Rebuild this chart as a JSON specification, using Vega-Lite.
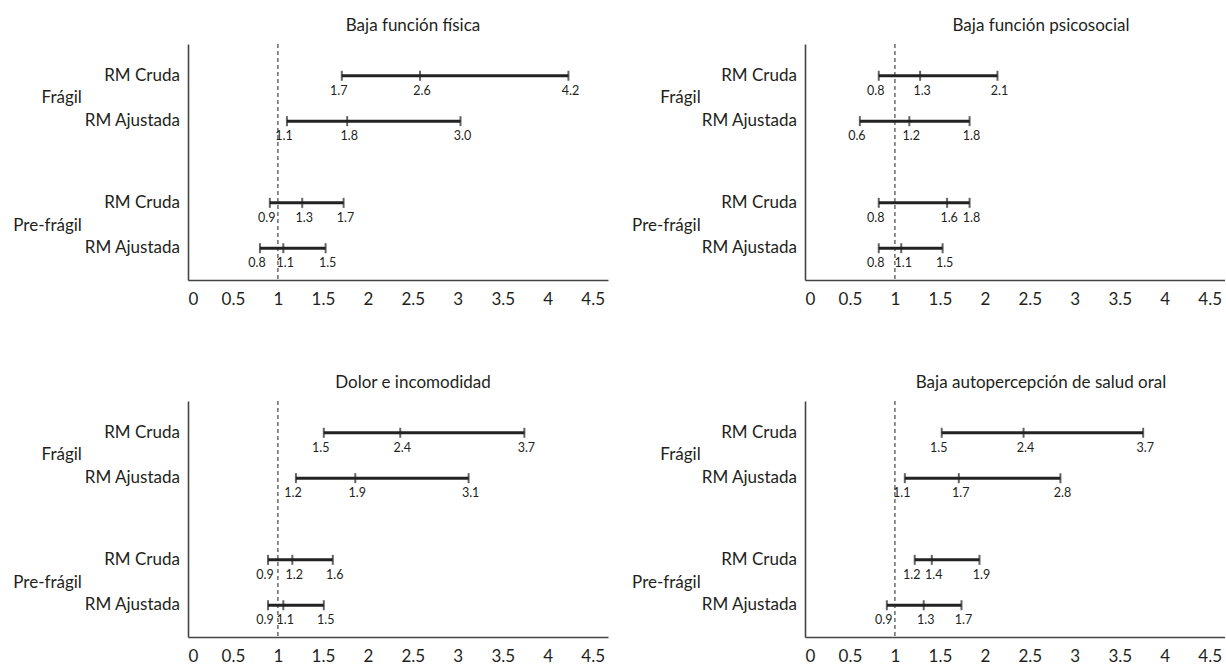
{
  "$schema": "https://vega.github.io/schema/vega-lite/v6.json",
  "padding": {"left": 13, "top": 16, "right": 0, "bottom": 0},
  "background": "white",
  "config": {
    "font": "Lato",
    "view": {"stroke": null},
    "title": {"fontSize": 17, "fontWeight": "normal", "color": "#231f20", "anchor": "middle", "offset": 9},
    "axisX": {"values": [0, 0.5, 1, 1.5, 2, 2.5, 3, 3.5, 4, 4.5], "format": "~g", "labelFontSize": 17, "labelColor": "#231f20", "ticks": false, "grid": false, "title": null, "domainColor": "#444", "domainWidth": 1.6, "labelPadding": 11},
    "axisY": {"labels": false, "ticks": false, "grid": false, "title": null, "domainColor": "#444", "domainWidth": 1.6}
  },
  "datasets": {
    "ci": [
      {"p": "Baja función física", "r": "RM Cruda", "pos": 4.5, "k": "lo", "v": 1.71, "lab": "1.7"},
      {"p": "Baja función física", "r": "RM Cruda", "pos": 4.5, "k": "est", "v": 2.58, "lab": "2.6"},
      {"p": "Baja función física", "r": "RM Cruda", "pos": 4.5, "k": "hi", "v": 4.23, "lab": "4.2"},
      {"p": "Baja función física", "r": "RM Ajustada", "pos": 3.5, "k": "lo", "v": 1.10, "lab": "1.1"},
      {"p": "Baja función física", "r": "RM Ajustada", "pos": 3.5, "k": "est", "v": 1.77, "lab": "1.8"},
      {"p": "Baja función física", "r": "RM Ajustada", "pos": 3.5, "k": "hi", "v": 3.03, "lab": "3.0"},
      {"p": "Baja función física", "r": "RM Cruda", "pos": 1.7, "k": "lo", "v": 0.91, "lab": "0.9"},
      {"p": "Baja función física", "r": "RM Cruda", "pos": 1.7, "k": "est", "v": 1.27, "lab": "1.3"},
      {"p": "Baja función física", "r": "RM Cruda", "pos": 1.7, "k": "hi", "v": 1.73, "lab": "1.7"},
      {"p": "Baja función física", "r": "RM Ajustada", "pos": 0.7, "k": "lo", "v": 0.80, "lab": "0.8"},
      {"p": "Baja función física", "r": "RM Ajustada", "pos": 0.7, "k": "est", "v": 1.06, "lab": "1.1"},
      {"p": "Baja función física", "r": "RM Ajustada", "pos": 0.7, "k": "hi", "v": 1.53, "lab": "1.5"},

      {"p": "Baja función psicosocial", "r": "RM Cruda", "pos": 4.5, "k": "lo", "v": 0.82, "lab": "0.8"},
      {"p": "Baja función psicosocial", "r": "RM Cruda", "pos": 4.5, "k": "est", "v": 1.28, "lab": "1.3"},
      {"p": "Baja función psicosocial", "r": "RM Cruda", "pos": 4.5, "k": "hi", "v": 2.14, "lab": "2.1"},
      {"p": "Baja función psicosocial", "r": "RM Ajustada", "pos": 3.5, "k": "lo", "v": 0.61, "lab": "0.6"},
      {"p": "Baja función psicosocial", "r": "RM Ajustada", "pos": 3.5, "k": "est", "v": 1.16, "lab": "1.2"},
      {"p": "Baja función psicosocial", "r": "RM Ajustada", "pos": 3.5, "k": "hi", "v": 1.83, "lab": "1.8"},
      {"p": "Baja función psicosocial", "r": "RM Cruda", "pos": 1.7, "k": "lo", "v": 0.82, "lab": "0.8"},
      {"p": "Baja función psicosocial", "r": "RM Cruda", "pos": 1.7, "k": "est", "v": 1.58, "lab": "1.6"},
      {"p": "Baja función psicosocial", "r": "RM Cruda", "pos": 1.7, "k": "hi", "v": 1.83, "lab": "1.8"},
      {"p": "Baja función psicosocial", "r": "RM Ajustada", "pos": 0.7, "k": "lo", "v": 0.82, "lab": "0.8"},
      {"p": "Baja función psicosocial", "r": "RM Ajustada", "pos": 0.7, "k": "est", "v": 1.07, "lab": "1.1"},
      {"p": "Baja función psicosocial", "r": "RM Ajustada", "pos": 0.7, "k": "hi", "v": 1.53, "lab": "1.5"},

      {"p": "Dolor e incomodidad", "r": "RM Cruda", "pos": 4.5, "k": "lo", "v": 1.51, "lab": "1.5"},
      {"p": "Dolor e incomodidad", "r": "RM Cruda", "pos": 4.5, "k": "est", "v": 2.36, "lab": "2.4"},
      {"p": "Dolor e incomodidad", "r": "RM Cruda", "pos": 4.5, "k": "hi", "v": 3.74, "lab": "3.7"},
      {"p": "Dolor e incomodidad", "r": "RM Ajustada", "pos": 3.5, "k": "lo", "v": 1.20, "lab": "1.2"},
      {"p": "Dolor e incomodidad", "r": "RM Ajustada", "pos": 3.5, "k": "est", "v": 1.86, "lab": "1.9"},
      {"p": "Dolor e incomodidad", "r": "RM Ajustada", "pos": 3.5, "k": "hi", "v": 3.12, "lab": "3.1"},
      {"p": "Dolor e incomodidad", "r": "RM Cruda", "pos": 1.7, "k": "lo", "v": 0.89, "lab": "0.9"},
      {"p": "Dolor e incomodidad", "r": "RM Cruda", "pos": 1.7, "k": "est", "v": 1.16, "lab": "1.2"},
      {"p": "Dolor e incomodidad", "r": "RM Cruda", "pos": 1.7, "k": "hi", "v": 1.61, "lab": "1.6"},
      {"p": "Dolor e incomodidad", "r": "RM Ajustada", "pos": 0.7, "k": "lo", "v": 0.89, "lab": "0.9"},
      {"p": "Dolor e incomodidad", "r": "RM Ajustada", "pos": 0.7, "k": "est", "v": 1.06, "lab": "1.1"},
      {"p": "Dolor e incomodidad", "r": "RM Ajustada", "pos": 0.7, "k": "hi", "v": 1.51, "lab": "1.5"},

      {"p": "Baja autopercepción de salud oral", "r": "RM Cruda", "pos": 4.5, "k": "lo", "v": 1.52, "lab": "1.5"},
      {"p": "Baja autopercepción de salud oral", "r": "RM Cruda", "pos": 4.5, "k": "est", "v": 2.43, "lab": "2.4"},
      {"p": "Baja autopercepción de salud oral", "r": "RM Cruda", "pos": 4.5, "k": "hi", "v": 3.76, "lab": "3.7"},
      {"p": "Baja autopercepción de salud oral", "r": "RM Ajustada", "pos": 3.5, "k": "lo", "v": 1.11, "lab": "1.1"},
      {"p": "Baja autopercepción de salud oral", "r": "RM Ajustada", "pos": 3.5, "k": "est", "v": 1.71, "lab": "1.7"},
      {"p": "Baja autopercepción de salud oral", "r": "RM Ajustada", "pos": 3.5, "k": "hi", "v": 2.84, "lab": "2.8"},
      {"p": "Baja autopercepción de salud oral", "r": "RM Cruda", "pos": 1.7, "k": "lo", "v": 1.22, "lab": "1.2"},
      {"p": "Baja autopercepción de salud oral", "r": "RM Cruda", "pos": 1.7, "k": "est", "v": 1.41, "lab": "1.4"},
      {"p": "Baja autopercepción de salud oral", "r": "RM Cruda", "pos": 1.7, "k": "hi", "v": 1.94, "lab": "1.9"},
      {"p": "Baja autopercepción de salud oral", "r": "RM Ajustada", "pos": 0.7, "k": "lo", "v": 0.91, "lab": "0.9"},
      {"p": "Baja autopercepción de salud oral", "r": "RM Ajustada", "pos": 0.7, "k": "est", "v": 1.32, "lab": "1.3"},
      {"p": "Baja autopercepción de salud oral", "r": "RM Ajustada", "pos": 0.7, "k": "hi", "v": 1.74, "lab": "1.7"}
    ],
    "rows": [
      {"t": "RM Cruda", "pos": 4.5},
      {"t": "RM Ajustada", "pos": 3.5},
      {"t": "RM Cruda", "pos": 1.7},
      {"t": "RM Ajustada", "pos": 0.7}
    ],
    "groups": [
      {"t": "Frágil", "pos": 4.0},
      {"t": "Pre-frágil", "pos": 1.2}
    ],
    "ref": [{"or": 1}]
  },
  "vconcat": [
    {
      "spacing": 24,
      "hconcat": [
        {
          "title": {"text": "Baja función física", "dx": 15},
          "width": 420, "height": 236,
          "layer": [
            {"data": {"name": "ref"}, "mark": {"type": "rule", "strokeDash": [4, 3], "color": "#231f20", "strokeWidth": 1},
             "encoding": {"x": {"field": "or", "type": "quantitative", "scale": {"domain": [0, 4.67], "nice": false, "zero": false}}}},
            {"data": {"name": "ci"}, "transform": [{"filter": "datum.p == 'Baja función física'"}], "mark": {"type": "rule", "color": "#222", "strokeWidth": 3},
             "encoding": {"x": {"aggregate": "min", "field": "v", "type": "quantitative"}, "x2": {"aggregate": "max", "field": "v"},
                          "y": {"field": "pos", "type": "quantitative", "scale": {"domain": [0, 5.2], "nice": false}}}},
            {"data": {"name": "ci"}, "transform": [{"filter": "datum.p == 'Baja función física'"}], "mark": {"type": "tick", "orient": "vertical", "color": "#222", "size": 10, "thickness": 2},
             "encoding": {"x": {"field": "v", "type": "quantitative"}, "y": {"field": "pos", "type": "quantitative"}}},
            {"data": {"name": "ci"}, "transform": [{"filter": "datum.p == 'Baja función física' && datum.k == 'lo'"}], "mark": {"type": "text", "dy": 15, "dx": -3, "fontSize": 12.5, "color": "#231f20"},
             "encoding": {"x": {"field": "v", "type": "quantitative"}, "y": {"field": "pos", "type": "quantitative"}, "text": {"field": "lab"}}},
            {"data": {"name": "ci"}, "transform": [{"filter": "datum.p == 'Baja función física' && datum.k != 'lo'"}], "mark": {"type": "text", "dy": 15, "dx": 2, "fontSize": 12.5, "color": "#231f20"},
             "encoding": {"x": {"field": "v", "type": "quantitative"}, "y": {"field": "pos", "type": "quantitative"}, "text": {"field": "lab"}}},
            {"data": {"name": "rows"}, "mark": {"type": "text", "align": "right", "fontSize": 17, "color": "#231f20"},
             "encoding": {"x": {"datum": -0.09}, "y": {"field": "pos", "type": "quantitative"}, "text": {"field": "t"}}},
            {"data": {"name": "groups"}, "mark": {"type": "text", "align": "right", "fontSize": 17, "color": "#231f20"},
             "encoding": {"x": {"datum": -1.18}, "y": {"field": "pos", "type": "quantitative"}, "text": {"field": "t"}}}
          ]
        },
        {
          "title": {"text": "Baja función psicosocial", "dx": 26},
          "width": 420, "height": 236,
          "layer": [
            {"data": {"name": "ref"}, "mark": {"type": "rule", "strokeDash": [4, 3], "color": "#231f20", "strokeWidth": 1},
             "encoding": {"x": {"field": "or", "type": "quantitative", "scale": {"domain": [0, 4.67], "nice": false, "zero": false}}}},
            {"data": {"name": "ci"}, "transform": [{"filter": "datum.p == 'Baja función psicosocial'"}], "mark": {"type": "rule", "color": "#222", "strokeWidth": 3},
             "encoding": {"x": {"aggregate": "min", "field": "v", "type": "quantitative"}, "x2": {"aggregate": "max", "field": "v"},
                          "y": {"field": "pos", "type": "quantitative", "scale": {"domain": [0, 5.2], "nice": false}}}},
            {"data": {"name": "ci"}, "transform": [{"filter": "datum.p == 'Baja función psicosocial'"}], "mark": {"type": "tick", "orient": "vertical", "color": "#222", "size": 10, "thickness": 2},
             "encoding": {"x": {"field": "v", "type": "quantitative"}, "y": {"field": "pos", "type": "quantitative"}}},
            {"data": {"name": "ci"}, "transform": [{"filter": "datum.p == 'Baja función psicosocial' && datum.k == 'lo'"}], "mark": {"type": "text", "dy": 15, "dx": -3, "fontSize": 12.5, "color": "#231f20"},
             "encoding": {"x": {"field": "v", "type": "quantitative"}, "y": {"field": "pos", "type": "quantitative"}, "text": {"field": "lab"}}},
            {"data": {"name": "ci"}, "transform": [{"filter": "datum.p == 'Baja función psicosocial' && datum.k != 'lo'"}], "mark": {"type": "text", "dy": 15, "dx": 2, "fontSize": 12.5, "color": "#231f20"},
             "encoding": {"x": {"field": "v", "type": "quantitative"}, "y": {"field": "pos", "type": "quantitative"}, "text": {"field": "lab"}}},
            {"data": {"name": "rows"}, "mark": {"type": "text", "align": "right", "fontSize": 17, "color": "#231f20"},
             "encoding": {"x": {"datum": -0.09}, "y": {"field": "pos", "type": "quantitative"}, "text": {"field": "t"}}},
            {"data": {"name": "groups"}, "mark": {"type": "text", "align": "right", "fontSize": 17, "color": "#231f20"},
             "encoding": {"x": {"datum": -1.16}, "y": {"field": "pos", "type": "quantitative"}, "text": {"field": "t"}}}
          ]
        }
      ]
    },
    {
      "spacing": 24,
      "hconcat": [
        {
          "title": {"text": "Dolor e incomodidad", "dx": 15},
          "width": 420, "height": 236,
          "layer": [
            {"data": {"name": "ref"}, "mark": {"type": "rule", "strokeDash": [4, 3], "color": "#231f20", "strokeWidth": 1},
             "encoding": {"x": {"field": "or", "type": "quantitative", "scale": {"domain": [0, 4.67], "nice": false, "zero": false}}}},
            {"data": {"name": "ci"}, "transform": [{"filter": "datum.p == 'Dolor e incomodidad'"}], "mark": {"type": "rule", "color": "#222", "strokeWidth": 3},
             "encoding": {"x": {"aggregate": "min", "field": "v", "type": "quantitative"}, "x2": {"aggregate": "max", "field": "v"},
                          "y": {"field": "pos", "type": "quantitative", "scale": {"domain": [0, 5.2], "nice": false}}}},
            {"data": {"name": "ci"}, "transform": [{"filter": "datum.p == 'Dolor e incomodidad'"}], "mark": {"type": "tick", "orient": "vertical", "color": "#222", "size": 10, "thickness": 2},
             "encoding": {"x": {"field": "v", "type": "quantitative"}, "y": {"field": "pos", "type": "quantitative"}}},
            {"data": {"name": "ci"}, "transform": [{"filter": "datum.p == 'Dolor e incomodidad' && datum.k == 'lo'"}], "mark": {"type": "text", "dy": 15, "dx": -3, "fontSize": 12.5, "color": "#231f20"},
             "encoding": {"x": {"field": "v", "type": "quantitative"}, "y": {"field": "pos", "type": "quantitative"}, "text": {"field": "lab"}}},
            {"data": {"name": "ci"}, "transform": [{"filter": "datum.p == 'Dolor e incomodidad' && datum.k != 'lo'"}], "mark": {"type": "text", "dy": 15, "dx": 2, "fontSize": 12.5, "color": "#231f20"},
             "encoding": {"x": {"field": "v", "type": "quantitative"}, "y": {"field": "pos", "type": "quantitative"}, "text": {"field": "lab"}}},
            {"data": {"name": "rows"}, "mark": {"type": "text", "align": "right", "fontSize": 17, "color": "#231f20"},
             "encoding": {"x": {"datum": -0.09}, "y": {"field": "pos", "type": "quantitative"}, "text": {"field": "t"}}},
            {"data": {"name": "groups"}, "mark": {"type": "text", "align": "right", "fontSize": 17, "color": "#231f20"},
             "encoding": {"x": {"datum": -1.18}, "y": {"field": "pos", "type": "quantitative"}, "text": {"field": "t"}}}
          ]
        },
        {
          "title": {"text": "Baja autopercepción de salud oral", "dx": 26},
          "width": 420, "height": 236,
          "layer": [
            {"data": {"name": "ref"}, "mark": {"type": "rule", "strokeDash": [4, 3], "color": "#231f20", "strokeWidth": 1},
             "encoding": {"x": {"field": "or", "type": "quantitative", "scale": {"domain": [0, 4.67], "nice": false, "zero": false}}}},
            {"data": {"name": "ci"}, "transform": [{"filter": "datum.p == 'Baja autopercepción de salud oral'"}], "mark": {"type": "rule", "color": "#222", "strokeWidth": 3},
             "encoding": {"x": {"aggregate": "min", "field": "v", "type": "quantitative"}, "x2": {"aggregate": "max", "field": "v"},
                          "y": {"field": "pos", "type": "quantitative", "scale": {"domain": [0, 5.2], "nice": false}}}},
            {"data": {"name": "ci"}, "transform": [{"filter": "datum.p == 'Baja autopercepción de salud oral'"}], "mark": {"type": "tick", "orient": "vertical", "color": "#222", "size": 10, "thickness": 2},
             "encoding": {"x": {"field": "v", "type": "quantitative"}, "y": {"field": "pos", "type": "quantitative"}}},
            {"data": {"name": "ci"}, "transform": [{"filter": "datum.p == 'Baja autopercepción de salud oral' && datum.k == 'lo'"}], "mark": {"type": "text", "dy": 15, "dx": -3, "fontSize": 12.5, "color": "#231f20"},
             "encoding": {"x": {"field": "v", "type": "quantitative"}, "y": {"field": "pos", "type": "quantitative"}, "text": {"field": "lab"}}},
            {"data": {"name": "ci"}, "transform": [{"filter": "datum.p == 'Baja autopercepción de salud oral' && datum.k != 'lo'"}], "mark": {"type": "text", "dy": 15, "dx": 2, "fontSize": 12.5, "color": "#231f20"},
             "encoding": {"x": {"field": "v", "type": "quantitative"}, "y": {"field": "pos", "type": "quantitative"}, "text": {"field": "lab"}}},
            {"data": {"name": "rows"}, "mark": {"type": "text", "align": "right", "fontSize": 17, "color": "#231f20"},
             "encoding": {"x": {"datum": -0.09}, "y": {"field": "pos", "type": "quantitative"}, "text": {"field": "t"}}},
            {"data": {"name": "groups"}, "mark": {"type": "text", "align": "right", "fontSize": 17, "color": "#231f20"},
             "encoding": {"x": {"datum": -1.16}, "y": {"field": "pos", "type": "quantitative"}, "text": {"field": "t"}}}
          ]
        }
      ]
    }
  ],
  "spacing": 66
}
